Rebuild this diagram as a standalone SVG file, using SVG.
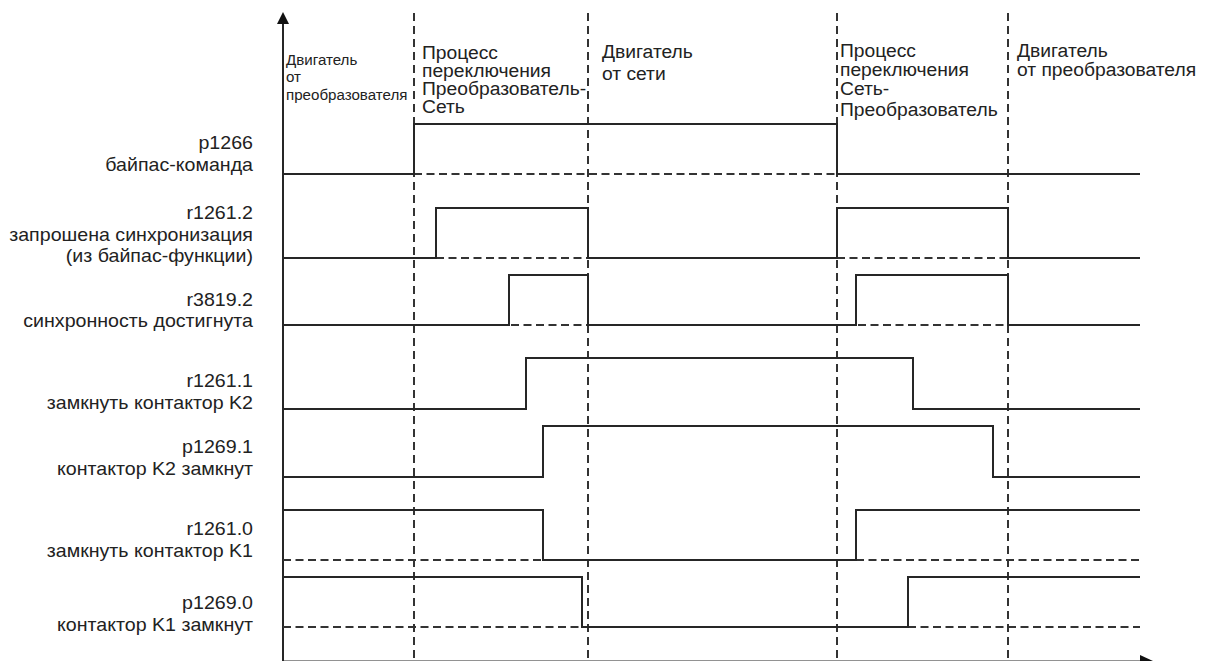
<svg xmlns="http://www.w3.org/2000/svg" width="1206" height="661" viewBox="0 0 1206 661">
<style>
.sig{fill:none;stroke:#262626;stroke-width:2;stroke-linejoin:miter}
.base{fill:none;stroke:#333;stroke-width:2;stroke-dasharray:8 4.5}
.grid{fill:none;stroke:#333;stroke-width:2;stroke-dasharray:8 5}
.axis{fill:none;stroke:#262626;stroke-width:2}
.lbl{font-family:"Liberation Sans",Arial,sans-serif;font-size:18px;fill:#222;text-anchor:end}
.hdr{font-family:"Liberation Sans",Arial,sans-serif;font-size:18px;fill:#222}
.hdrs{font-family:"Liberation Sans",Arial,sans-serif;font-size:14px;fill:#222}
</style>
<rect width="1206" height="661" fill="#fff"/>
<g id="connectors">
<g id="phase-lines">
<path class="grid" d="M414,13 V661 M588,13 V661 M837,13 V661 M1008,13 V661"/>
</g>
<g id="axes">
<path class="axis" d="M283,22 V661"/>
<polygon points="277,24 283,12 289,24" fill="#111"/>
<path class="axis" d="M283,661.5 H1142" stroke="#bbb"/>
<polygon points="1140,655 1153,661 1140,667" fill="#111"/>
</g>
</g>
<g id="phase-headers">
<g id="hdr1" transform="translate(286 0) scale(1.08 1)">
<text class="hdrs" x="0" y="65">Двигатель</text>
<text class="hdrs" x="0" y="82">от</text>
<text class="hdrs" x="0" y="100">преобразователя</text>
</g>
<g id="hdr2" transform="translate(422 0) scale(1.07 1)">
<text class="hdr" x="0" y="59">Процесс</text>
<text class="hdr" x="0" y="77">переключения</text>
<text class="hdr" x="0" y="95">Преобразователь-</text>
<text class="hdr" x="0" y="113">Сеть</text>
</g>
<g id="hdr3" transform="translate(602 0) scale(1.07 1)">
<text class="hdr" x="0" y="58">Двигатель</text>
<text class="hdr" x="0" y="80">от сети</text>
</g>
<g id="hdr4" transform="translate(840 0) scale(1.07 1)">
<text class="hdr" x="0" y="57">Процесс</text>
<text class="hdr" x="0" y="76">переключения</text>
<text class="hdr" x="0" y="95">Сеть-</text>
<text class="hdr" x="0" y="116">Преобразователь</text>
</g>
<g id="hdr5" transform="translate(1017 0) scale(1.07 1)">
<text class="hdr" x="0" y="57">Двигатель</text>
<text class="hdr" x="0" y="76">от преобразователя</text>
</g>
</g>
<g id="p1266">
<text class="lbl" transform="translate(253 149) scale(1.09 1)">p1266</text>
<text class="lbl" transform="translate(253 171) scale(1.09 1)">байпас-команда</text>
<path class="base" d="M414,174 H837"/>
<path class="sig" d="M283,174 H414 V124 H837 V174 H1140"/>
</g>
<g id="r1261_2">
<text class="lbl" transform="translate(253 219) scale(1.09 1)">r1261.2</text>
<text class="lbl" transform="translate(253 241) scale(1.09 1)">запрошена синхронизация</text>
<text class="lbl" transform="translate(253 262) scale(1.09 1)">(из байпас-функции)</text>
<path class="base" d="M436,258 H588 M837,258 H1008"/>
<path class="sig" d="M283,258 H436 V208 H588 V258 H837 V208 H1008 V258 H1140"/>
</g>
<g id="r3819_2">
<text class="lbl" transform="translate(253 306) scale(1.09 1)">r3819.2</text>
<text class="lbl" transform="translate(253 327) scale(1.09 1)">синхронность достигнута</text>
<path class="base" d="M511,325 H588 M858,325 H1008"/>
<path class="sig" d="M283,325 H509 V275 H588 V325 H856 V275 H1008 V325 H1140"/>
</g>
<g id="r1261_1">
<text class="lbl" transform="translate(253 387) scale(1.09 1)">r1261.1</text>
<text class="lbl" transform="translate(253 409) scale(1.09 1)">замкнуть контактор K2</text>
<path class="sig" d="M283,409 H526 V358 H913 V409 H1140"/>
</g>
<g id="p1269_1">
<text class="lbl" transform="translate(253 453) scale(1.09 1)">p1269.1</text>
<text class="lbl" transform="translate(253 475) scale(1.09 1)">контактор K2 замкнут</text>
<path class="sig" d="M283,477 H543 V426 H993 V477 H1140"/>
</g>
<g id="r1261_0">
<text class="lbl" transform="translate(253 535) scale(1.09 1)">r1261.0</text>
<text class="lbl" transform="translate(253 557) scale(1.09 1)">замкнуть контактор K1</text>
<path class="base" d="M283,560 H543 M856,560 H1140"/>
<path class="sig" d="M283,510 H543 V560 H856 V510 H1140"/>
</g>
<g id="p1269_0">
<text class="lbl" transform="translate(253 609) scale(1.09 1)">p1269.0</text>
<text class="lbl" transform="translate(253 631) scale(1.09 1)">контактор K1 замкнут</text>
<path class="base" d="M283,627 H582 M908,627 H1140"/>
<path class="sig" d="M283,577 H582 V627 H908 V577 H1140"/>
</g>
</svg>
